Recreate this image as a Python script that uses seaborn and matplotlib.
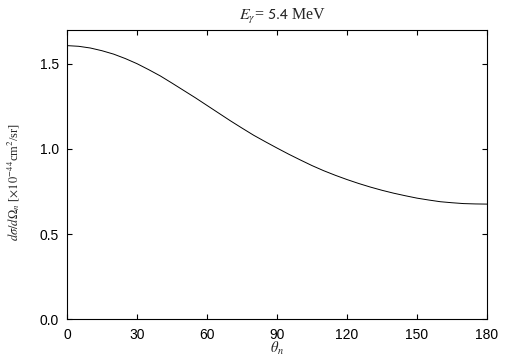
import numpy as np
import pandas as pd
import matplotlib
matplotlib.use("Agg")
import matplotlib.pyplot as plt
import seaborn as sns

# angle of the neutron (deg) and cross section (x1e-44 cm^2/sr)
theta_n = [0, 5, 10, 15, 20, 25, 30, 35, 40, 45, 50, 55, 60, 65, 70, 75, 80, 85, 90,
           95, 100, 105, 110, 115, 120, 125, 130, 135, 140, 145, 150, 155, 160,
           165, 170, 175, 180]
dsigma = [1.606, 1.602, 1.592, 1.576, 1.556, 1.530, 1.500, 1.465, 1.428, 1.386,
          1.343, 1.300, 1.255, 1.210, 1.165, 1.122, 1.080, 1.042, 1.005,
          0.969, 0.935, 0.902, 0.872, 0.845, 0.820, 0.797, 0.776, 0.757, 0.740,
          0.725, 0.711, 0.700, 0.690, 0.684, 0.679, 0.677, 0.676]
xticks = [0, 30, 60, 90, 120, 150, 180]
yticks = [0.0, 0.5, 1.0, 1.5]

df = pd.DataFrame({"theta": theta_n, "dsigma": dsigma})

sns.set_style("ticks")
plt.rcParams["font.family"] = ["Liberation Sans", "DejaVu Sans"]
plt.rcParams["mathtext.fontset"] = "stix"

fig = plt.figure(figsize=(5.05, 3.61), dpi=100)
ax = fig.add_axes([0.1327, 0.1155, 0.8317, 0.8025])

sns.lineplot(data=df, x="theta", y="dsigma", color="black", linewidth=0.7, ax=ax)

ax.set_xlim(0, 180)
ax.set_ylim(0, 1.7)
ax.set_xticks(xticks)
ax.set_yticks(yticks)
ax.set_yticklabels([f"{v:.1f}" for v in yticks])
ax.tick_params(direction="in", top=True, right=True, length=3.6, width=0.8,
               labelsize=10, colors="black", pad=6)
for s in ax.spines.values():
    s.set_linewidth(0.8)
    s.set_color("black")

ax.set_title(r"$E_\gamma$= $\mathsf{5.4}$ MeV", fontsize=11.5,
             family="Liberation Serif", pad=7, x=0.514)
ax.set_xlabel(r"$\theta_n$", fontsize=10.5)
ax.xaxis.set_label_coords(0.5, -0.072)
ax.xaxis.label.set_va("top")
ax.set_ylabel(r"$d\sigma/d\Omega_n$ [$\times10^{-44}$cm$^2$/sr]", fontsize=9,
              family="Liberation Serif")
ax.yaxis.set_label_coords(-0.108, 0.473)

fig.savefig("out.png", dpi=100)
